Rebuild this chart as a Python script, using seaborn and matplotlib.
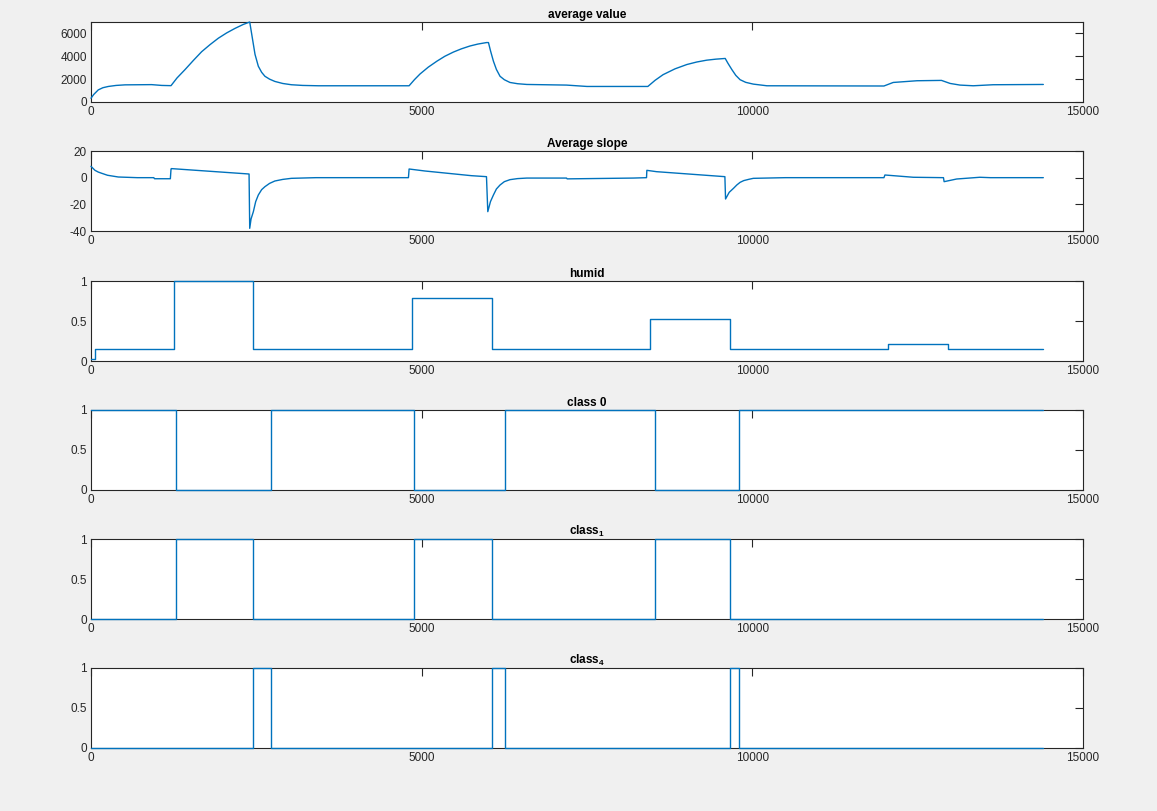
import matplotlib
matplotlib.use('Agg')
import matplotlib.pyplot as plt
import seaborn as sns
import pandas as pd

# values
avg_x = [0, 40, 110, 180, 262, 380, 514, 917, 1069, 1210, 1300, 1421, 1550,
         1673, 1800, 1925, 2050, 2177, 2300, 2400,
         2430, 2480, 2530, 2580, 2630, 2700, 2780, 2900, 3030, 3200, 3440,
         4810, 4890, 4975, 5100, 5230, 5350, 5480, 5600, 5730, 5850, 5980,
         6010, 6040, 6085, 6130, 6185, 6250, 6335, 6450, 6590, 7190, 7500,
         8420, 8530, 8650, 8830, 9010, 9160, 9310, 9450, 9590, 9630, 9690,
         9750, 9815, 9900, 10015, 10220, 11990, 12130, 12490,
         12860, 12990, 13140, 13340, 13640, 14400]
avg_y = [330, 650, 1060, 1250, 1360, 1450, 1500, 1520, 1450, 1430, 2100, 2830, 3650,
         4400, 5020, 5580, 6040, 6440, 6780, 7000,
         5940, 4170, 3130, 2600, 2250, 2000, 1800, 1620, 1510, 1450, 1420,
         1420, 1950, 2450, 3050, 3570, 4000, 4370, 4650, 4900, 5070, 5200,
         5200, 4500, 3570, 2850, 2250, 1950, 1710, 1600, 1535, 1480, 1360,
         1360, 1900, 2390, 2900, 3280, 3500, 3660, 3750, 3810, 3400, 2840,
         2330, 1950, 1720, 1565, 1420, 1400, 1710, 1860,
         1890, 1625, 1480, 1420, 1510, 1535]

slope_x = [0, 30, 60, 110, 161, 250, 413, 700, 950, 960, 1200, 1210, 1215,
           2390, 2400, 2420, 2455, 2490, 2530, 2580, 2630, 2700, 2780, 2900,
           3030, 3400, 4800, 4810, 5050, 5750, 5980,
           6000, 6040, 6085, 6130, 6185, 6250, 6335, 6450, 6590, 7190, 7200,
           8200, 8400, 8405, 8550, 9585, 9595, 9650, 9715, 9765, 9815, 9870,
           9950, 10015, 10500, 11990, 12005, 12435,
           12890, 12900, 13090, 13440, 13600, 14400]
slope_y = [8.5, 7, 5.5, 4.2, 3.3, 1.8, 0.5, 0, 0, -0.8, -0.8, 6.5, 6.8,
           2.75, -38, -31, -25.5, -18, -13, -9, -6.75, -4.3, -2.5, -1.3,
           -0.5, 0, 0, 6.5, 5, 1.5, 0.75,
           -25.5, -18, -13, -8.5, -5.5, -3, -1.5, -0.7, -0.3, -0.3, -0.9,
           -0.3, 0, 5.5, 4.5, 0.75, -16, -11, -8, -5.5, -3.5, -2.2,
           -1.2, -0.5, 0, 0, 2, 0.3,
           0, -3, -1, 0.3, 0, 0]

humid_x = [0, 60, 1260, 2455, 4860, 6060, 8456, 9659, 12055, 12960, 14400]
humid_y = [0.03, 0.15, 1.0, 0.15, 0.79, 0.15, 0.52, 0.15, 0.21, 0.15, 0.15]

class0_x = [0, 1278, 2727, 4884, 6266, 8524, 9805, 14400]
class0_y = [1, 0, 1, 0, 1, 0, 1, 1]
class1_x = [0, 1278, 2457, 4884, 6060, 8524, 9659, 14400]
class1_y = [0, 1, 0, 1, 0, 1, 0, 0]
class4_x = [0, 2457, 2727, 6060, 6266, 9659, 9805, 14400]
class4_y = [0, 1, 0, 1, 0, 1, 0, 0]

titles = ['average value', 'Average slope', 'humid', 'class 0',
          r'class$_{\mathbf{1}}$', r'class$_{\mathbf{4}}$']
xticks = [0, 5000, 10000, 15000]

sns.set_style('white')
plt.rcParams['font.family'] = ['Liberation Sans', 'DejaVu Sans']
plt.rcParams['mathtext.fontset'] = 'custom'
plt.rcParams['mathtext.rm'] = 'Liberation Sans:bold'
plt.rcParams['mathtext.bf'] = 'Liberation Sans:bold'

dark = '#262626'
blue = '#0072BD'

fig = plt.figure(figsize=(11.57, 8.11), dpi=100)
fig.patch.set_facecolor('#F0F0F0')

bottoms = [102, 231, 361, 490, 619, 748]  # pixel rows of each axes bottom
series = [
    (avg_x, avg_y, False, (0, 7000), [0, 2000, 4000, 6000]),
    (slope_x, slope_y, False, (-40, 20), [-40, -20, 0, 20]),
    (humid_x, humid_y, True, (0, 1), [0, 0.5, 1]),
    (class0_x, class0_y, True, (0, 1), [0, 0.5, 1]),
    (class1_x, class1_y, True, (0, 1), [0, 0.5, 1]),
    (class4_x, class4_y, True, (0, 1), [0, 0.5, 1]),
]

for i, (xs, ys, step, ylim, yticks) in enumerate(series):
    b = bottoms[i]
    ax = fig.add_axes([91 / 1157, 1 - b / 811, 992 / 1157, 80 / 811])
    ax.set_facecolor('white')
    df = pd.DataFrame({'x': xs, 'y': ys})
    kw = {'drawstyle': 'steps-post'} if step else {}
    sns.lineplot(data=df, x='x', y='y', ax=ax, color=blue, linewidth=1.0,
                 estimator=None, sort=False, clip_on=False, zorder=3, **kw)
    ax.set_xlim(0, 15000)
    ax.set_ylim(*ylim)
    ax.set_xticks(xticks)
    ax.set_yticks(yticks)
    ax.set_yticklabels([('%g' % t) for t in yticks])
    ax.set_xlabel('')
    ax.set_ylabel('')
    ax.tick_params(direction='in', length=6, width=0.8, colors=dark,
                   labelsize=8.5, pad=3, top=True, right=True,
                   labeltop=False, labelright=False)
    for s in ax.spines.values():
        s.set_color(dark)
        s.set_linewidth(0.8)
        s.set_visible(True)
    ax.set_title(titles[i], fontsize=8.5, fontweight='bold', color='black', pad=3)

fig.savefig('out.png', dpi=100, facecolor=fig.get_facecolor())
